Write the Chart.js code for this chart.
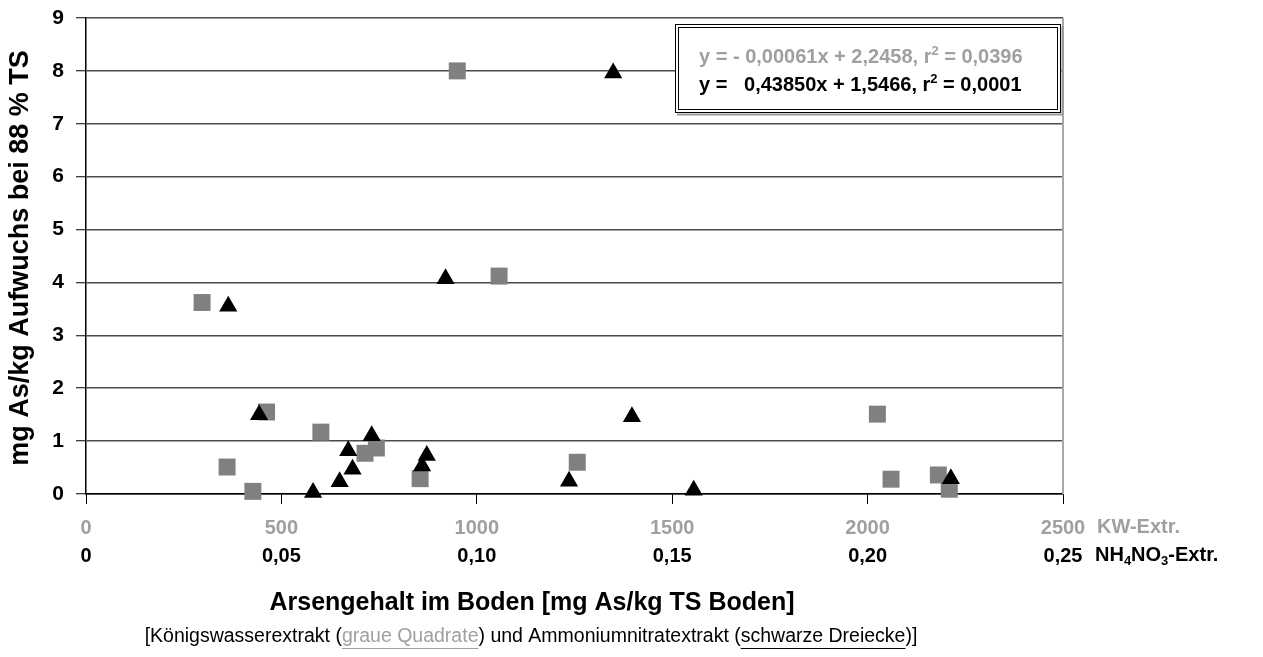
<!DOCTYPE html>
<html><head><meta charset="utf-8">
<script src="https://cdn.jsdelivr.net/npm/chart.js@4.4.1/dist/chart.umd.min.js"></script>
<style>html,body{margin:0;padding:0;background:#fff;}canvas{display:block;}</style>
</head><body>
<canvas id="c" width="1263" height="657"></canvas>
<script>
// Königswasserextrakt (graue Quadrate): x in mg As/kg TS Boden, y in mg As/kg Aufwuchs
const kwX = [297, 361, 427, 462, 601, 714, 743, 855, 950, 1057, 1257, 2025, 2060, 2181, 2209];
const kwY = [3.62, 0.51, 0.05, 1.55, 1.17, 0.77, 0.87, 0.29, 8.0, 4.12, 0.60, 1.51, 0.28, 0.36, 0.09];
// Ammoniumnitratextrakt (schwarze Dreiecke)
const nhX = [0.0364, 0.0443, 0.0581, 0.0649, 0.0671, 0.0682, 0.0731, 0.0860, 0.0872, 0.0920, 0.1236, 0.1349, 0.1397, 0.1555, 0.2213];
const nhY = [3.55, 1.50, 0.03, 0.23, 0.82, 0.47, 1.10, 0.53, 0.73, 4.07, 0.24, 7.96, 1.46, 0.07, 0.29];
// tick labels
const yTickLabels = ['0','1','2','3','4','5','6','7','8','9'];
const kwTickLabels = ['0','500','1000','1500','2000','2500'];
const nhTickLabels = ['0','0,05','0,10','0,15','0,20','0,25'];
const kwAxisName = 'KW-Extr.';
const yTitle = 'mg As/kg Aufwuchs bei 88 % TS';
const xTitle = 'Arsengehalt im Boden [mg As/kg TS Boden]';
const eqKW = ['y = - 0,00061x + 2,2458, r', '2', ' = 0,0396'];
const eqNH = ['y =   0,43850x + 1,5466, r', '2', ' = 0,0001'];

const FONT = '"Liberation Sans", Arial, Helvetica, sans-serif';
const GRAY_TXT = '#a0a0a0';

function drawSegments(ctx, segs, x, y) {
  let cx = x;
  segs.forEach(s => {
    ctx.font = s.font;
    ctx.fillStyle = s.color;
    ctx.fillText(s.t, cx, y + (s.dy || 0));
    const w = ctx.measureText(s.t).width;
    if (s.underline) {
      ctx.strokeStyle = s.color;
      ctx.lineWidth = 1;
      ctx.beginPath();
      ctx.moveTo(cx, y + 11.5);
      ctx.lineTo(cx + w, y + 11.5);
      ctx.stroke();
    }
    cx += w;
  });
  return cx - x;
}
function segWidth(ctx, segs) {
  let w = 0;
  segs.forEach(s => { ctx.font = s.font; w += ctx.measureText(s.t).width; });
  return w;
}

const decor = {
  id: 'decor',
  afterDraw(chart) {
    const ctx = chart.ctx;
    const a = chart.chartArea;
    ctx.save();
    // right border of plot area
    ctx.strokeStyle = '#a8a8a8';
    ctx.lineWidth = 2;
    ctx.beginPath();
    ctx.moveTo(a.right, a.top);
    ctx.lineTo(a.right, a.bottom);
    ctx.stroke();

    // equation box
    const L = 675, R = 1061, T = 24, B = 113;
    ctx.fillStyle = '#fff';
    ctx.fillRect(L, T, R - L, B - T);
    ctx.strokeStyle = '#999';
    ctx.lineWidth = 2;
    ctx.beginPath();
    ctx.moveTo(L + 2, B + 1.5); ctx.lineTo(R + 1.5, B + 1.5); ctx.lineTo(R + 1.5, T + 2);
    ctx.stroke();
    ctx.strokeStyle = '#000';
    ctx.lineWidth = 1;
    ctx.strokeRect(L + 0.5, T + 0.5, R - L - 1, B - T - 1);
    ctx.strokeRect(L + 3.5, T + 3.5, R - L - 7, B - T - 7);

    ctx.textBaseline = 'middle';
    ctx.textAlign = 'left';
    const bf = 'bold 20px ' + FONT, sf = 'bold 13px ' + FONT;
    drawSegments(ctx, [
      {t: eqKW[0], font: bf, color: GRAY_TXT},
      {t: eqKW[1], font: sf, color: GRAY_TXT, dy: -6},
      {t: eqKW[2], font: bf, color: GRAY_TXT}
    ], 699, 57);
    drawSegments(ctx, [
      {t: eqNH[0], font: bf, color: '#000'},
      {t: eqNH[1], font: sf, color: '#000', dy: -6},
      {t: eqNH[2], font: bf, color: '#000'}
    ], 699, 85);

    // axis names after tick rows
    ctx.font = 'bold 20px ' + FONT;
    ctx.fillStyle = GRAY_TXT;
    ctx.fillText(kwAxisName, 1097, 527);
    drawSegments(ctx, [
      {t: 'NH', font: bf, color: '#000'},
      {t: '4', font: sf, color: '#000', dy: 6},
      {t: 'NO', font: bf, color: '#000'},
      {t: '3', font: sf, color: '#000', dy: 6},
      {t: '-Extr.', font: bf, color: '#000'}
    ], 1095, 555);

    // x title
    ctx.textAlign = 'center';
    ctx.font = 'bold 25px ' + FONT;
    ctx.fillStyle = '#000';
    ctx.fillText(xTitle, 532, 603);

    // subtitle
    ctx.textAlign = 'left';
    const nf = '19.5px ' + FONT;
    const sub = [
      {t: '[Königswasserextrakt (', font: nf, color: '#000'},
      {t: 'graue Quadrate', font: nf, color: GRAY_TXT, underline: true},
      {t: ') und Ammoniumnitratextrakt (', font: nf, color: '#000'},
      {t: 'schwarze Dreiecke', font: nf, color: '#000', underline: true},
      {t: ')]', font: nf, color: '#000'}
    ];
    const sw = segWidth(ctx, sub);
    drawSegments(ctx, sub, 531 - sw / 2, 637);

    // y title
    ctx.translate(21, 258);
    ctx.rotate(-Math.PI / 2);
    ctx.textAlign = 'center';
    ctx.font = 'bold 27px ' + FONT;
    ctx.fillStyle = '#000';
    ctx.fillText(yTitle, 0, 0);
    ctx.restore();
  }
};

new Chart(document.getElementById('c'), {
  type: 'scatter',
  data: {
    datasets: [
      {
        label: 'NH4NO3-Extr.',
        data: nhX.map((x, i) => ({x: x, y: nhY[i]})),
        xAxisID: 'x2',
        pointStyle: 'triangle',
        pointRadius: 10.5,
        pointHoverRadius: 10.5,
        backgroundColor: '#000',
        borderWidth: 0,
        clip: false,
        order: 0
      },
      {
        label: 'KW-Extr.',
        data: kwX.map((x, i) => ({x: x, y: kwY[i]})),
        xAxisID: 'x',
        pointStyle: 'rect',
        pointRadius: 12,
        pointHoverRadius: 12,
        backgroundColor: '#808080',
        borderWidth: 0,
        clip: false,
        order: 1
      }
    ]
  },
  options: {
    responsive: false,
    animation: false,
    devicePixelRatio: 1,
    events: [],
    layout: { padding: { left: 0, top: 18, right: 200, bottom: 77 } },
    plugins: { legend: { display: false }, tooltip: { enabled: false }, title: { display: false } },
    scales: {
      y: {
        position: 'left',
        min: 0, max: 9,
        afterFit(s) { s.width = 86; s.paddingTop = 0; s.paddingBottom = 0; },
        ticks: {
          stepSize: 1,
          padding: 12,
          color: '#000',
          font: { family: FONT, size: 21, weight: 'bold' },
          callback: (v, i) => yTickLabels[i]
        },
        grid: { color: '#4a4a4a', lineWidth: 1.5, tickLength: 10, tickColor: '#000', tickWidth: 1 },
        border: { display: true, color: '#000', width: 1.5 }
      },
      x: {
        type: 'linear',
        position: 'bottom',
        min: 0, max: 2500,
        afterFit(s) { s.height = 46; s.paddingLeft = 0; s.paddingRight = 0; },
        ticks: {
          stepSize: 500,
          padding: 12,
          maxRotation: 0,
          color: GRAY_TXT,
          font: { family: FONT, size: 20, weight: 'bold' },
          callback: (v, i) => kwTickLabels[i]
        },
        grid: { drawOnChartArea: false, drawTicks: true, tickLength: 10, tickColor: '#000', tickWidth: 1 },
        border: { display: true, color: '#000', width: 1.5 }
      },
      x2: {
        type: 'linear',
        position: 'bottom',
        min: 0, max: 0.25,
        afterFit(s) { s.height = 40; s.paddingLeft = 0; s.paddingRight = 0; },
        ticks: {
          stepSize: 0.05,
          padding: 4,
          maxRotation: 0,
          color: '#000',
          font: { family: FONT, size: 20, weight: 'bold' },
          callback: (v, i) => nhTickLabels[i]
        },
        grid: { display: false, drawTicks: false },
        border: { display: false }
      }
    }
  },
  plugins: [decor]
});
</script>
</body></html>
